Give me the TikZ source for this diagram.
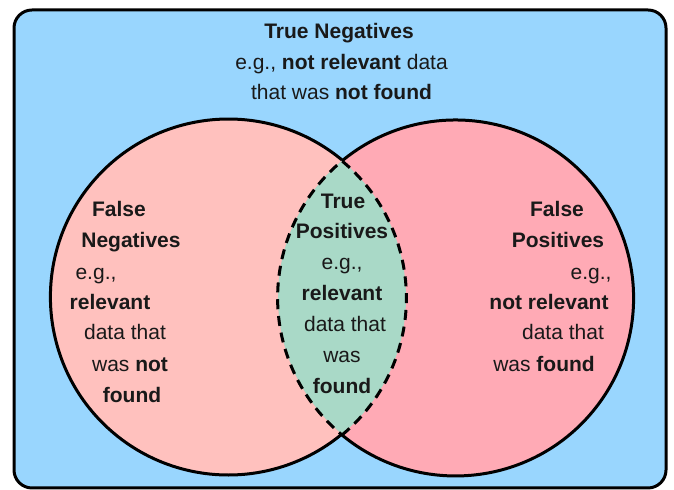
\documentclass[tikz,border=0pt]{standalone}
\usepackage{fontspec}
\setmainfont{Liberation Sans}
\usepackage{xcolor}

\definecolor{tnblue}{RGB}{153,214,254}
\definecolor{fnpink}{RGB}{255,193,190}
\definecolor{fppink}{RGB}{255,170,181}
\definecolor{tpgreen}{RGB}{169,217,199}

\tikzset{
  lbl/.style={anchor=base, inner sep=0pt, text=black!90, font=\fontsize{10.5pt}{12pt}\selectfont},
  outline/.style={line width=1.5pt, draw=black},
  lensline/.style={line width=1.5pt, draw=black, dash pattern=on 5pt off 3.4pt}
}

\begin{document}
\begin{tikzpicture}[x=0.5pt, y=0.5pt]
\useasboundingbox (0,0) rectangle (674,490);

% centres of the two sets and where they cross
\coordinate (lc) at (228,192.5);
\coordinate (rc) at (456,192.5);
\coordinate (itop) at (342,330);
\coordinate (ibot) at (342,55);

% everything (true negatives)
\draw [outline, fill=tnblue, rounded corners=9pt] (14,2) rectangle (666,480);

% the two sets
\fill [fnpink] (lc) circle [radius=89pt];
\fill [fppink] (rc) circle [radius=89pt];
\begin{scope}
  \clip (lc) circle [radius=89pt];
  \fill [tpgreen] (rc) circle [radius=89pt];
\end{scope}

% outer borders solid, overlap dashed
\draw [outline] (itop) arc [start angle=50.34, end angle=309.66, radius=89pt];
\draw [outline] (ibot) arc [start angle=-129.66, end angle=129.66, radius=89pt];
\draw [lensline] (ibot) arc [start angle=-50.34, end angle=50.34, radius=89pt]
                 arc [start angle=129.66, end angle=230.34, radius=89pt];

% true negatives
\node (tn1) [lbl] at (339,451) {\textbf{True Negatives}};
\node (tn2) [lbl] at (341.5,420) {e.g., \textbf{not relevant} data};
\node (tn3) [lbl] at (341.5,390) {that was \textbf{not found}};

% false negatives
\foreach \x/\y/\t [count=\i] in {119/273/{\textbf{False}}, 131/242/{\textbf{Negatives}},
    96/210/{e.g.,}, 110/180/{\textbf{relevant}}, 125/150/{data that},
    130/118/{was \textbf{not}}, 132/87/{\textbf{found}}}
  \node (fn\i) [lbl] at (\x,\y) {\t};

% true positives
\foreach \x/\y/\t [count=\i] in {343/281/{\textbf{True}}, 342/251/{\textbf{Positives}},
    342/220/{e.g.,}, 342/189/{\textbf{relevant}}, 345/158/{data that},
    342/127/{was}, 342/96/{\textbf{found}}}
  \node (tp\i) [lbl] at (\x,\y) {\t};

% false positives
\foreach \x/\y/\t [count=\i] in {557/273/{\textbf{False}}, 558/242/{\textbf{Positives}},
    591/210/{e.g.,}, 549/180/{\textbf{not relevant}}, 563/150/{data that},
    544/118/{was \textbf{found}}}
  \node (fp\i) [lbl] at (\x,\y) {\t};
\end{tikzpicture}
\end{document}
